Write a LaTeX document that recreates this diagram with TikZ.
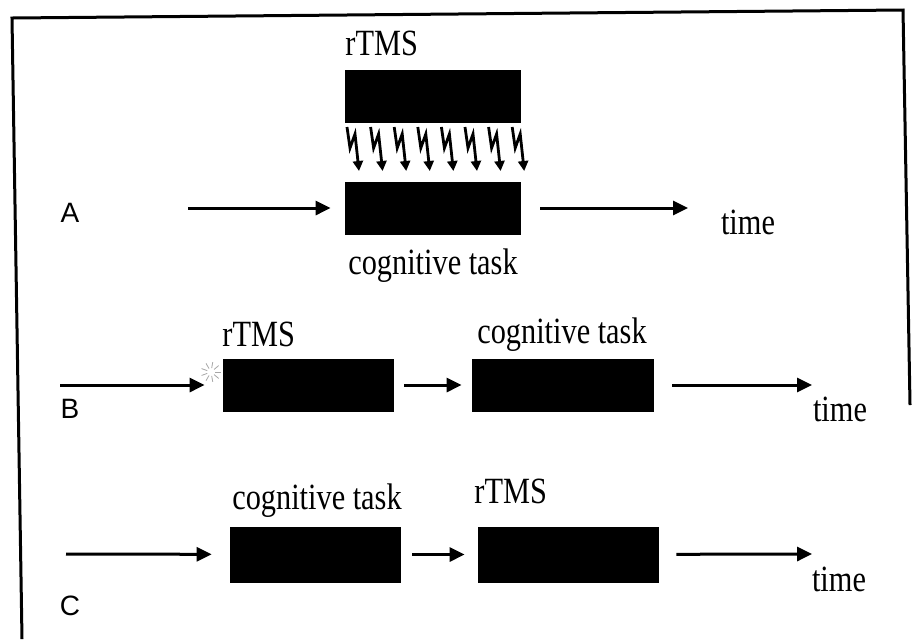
\documentclass[tikz,border=0pt]{standalone}
\usepackage{fontspec}
\setmainfont{Liberation Serif}
\newfontfamily\narrowfont[FakeStretch=0.82]{Liberation Serif}
\newfontfamily\labfont{Liberation Sans}
\usepackage{tikz}
\usetikzlibrary{arrows.meta}
\usetikzlibrary{positioning}

\tikzset{
  blk/.style={fill=black,draw=black,inner sep=0,minimum height=26pt},
  txt/.style={inner sep=0,font=\narrowfont\fontsize{18.5}{20}\selectfont},
  letter/.style={inner sep=0,font=\labfont\fontsize{14}{16}\selectfont},
  flow/.style={line width=1.5pt,-{Triangle[length=7.5pt,width=7pt]}},
  bolt/.style={line width=1.4pt,line join=miter,-{Triangle[length=5pt,width=5pt]}}
}

\begin{document}
\begin{tikzpicture}
		[x=0.5pt,y=-0.5pt]
		\useasboundingbox (0,0) rectangle (913,639);
		% frame
		\draw[line width=1.5pt] (22,639) -- (12,18) -- (903,10) -- (910,405);

		% A
		\node[letter,anchor=base] (lA) at (70,222) {A};
		\node[blk,minimum width=87.5pt] (rtmsA) at (432.5,96) {};
		\node[blk,minimum width=87.5pt] (taskA) at (432.5,208) {};
		\node[txt,anchor=base west] (trA) at (345,55) {rTMS};
		\node[txt,anchor=base] (tcA) at (433,274) {cognitive task};
		\node[txt,anchor=base] (ttA) at (748,234) {time};
		\coordinate (sA) at (188,208);
		\coordinate (eA) at (688,208);
		\draw[flow,shorten >=7pt] (sA) -- (taskA);
		\draw[flow,shorten <=10pt] (taskA) -- (eA);
		\foreach \i in {0,...,7}{
			\pgfmathsetmacro\bx{359+23.6*\i}
			\draw[bolt] (\bx-12,127) -- (\bx-9,148) -- (\bx-4,134) -- (\bx,171);
		}

		% B
		\node[letter,anchor=base] (lB) at (70,418) {B};
		\node[blk,minimum width=85pt] (rtmsB) at (308,385) {};
		\node[blk,minimum width=90.5pt] (taskB) at (562.5,385) {};
		\node[txt,anchor=base west] (trB) at (222,346) {rTMS};
		\node[txt,anchor=base] (tcB) at (562,343) {cognitive task};
		\node[txt,anchor=base] (ttB) at (840,421) {time};
		\coordinate (sB) at (60,385);
		\coordinate (eB) at (812,385);
		\draw[flow,shorten >=9pt] (sB) -- (rtmsB);
		\draw[flow,shorten <=5.5pt,shorten >=5pt] (rtmsB) -- (taskB);
		\draw[flow,shorten <=9.5pt] (taskB) -- (eB);
		\foreach \a in {0,40,...,320}
			\draw[gray!70,thin] (211,372) ++(\a:4) -- ++(\a:6);

		% C
		\node[letter,anchor=base] (lC) at (70,615) {C};
		\node[blk,minimum width=85pt,minimum height=27.5pt] (taskC) at (315,554.5) {};
		\node[blk,minimum width=90pt,minimum height=27.5pt] (rtmsC) at (568,554.5) {};
		\node[txt,anchor=base] (tcC) at (317,509) {cognitive task};
		\node[txt,anchor=base west] (trC) at (474,503) {rTMS};
		\node[txt,anchor=base] (ttC) at (839,591) {time};
		\coordinate (sC) at (66,554);
		\coordinate (eC) at (812,554);
		\draw[flow,shorten >=9pt] (sC) -- (taskC);
		\draw[flow,shorten <=6pt,shorten >=6.5pt] (taskC) -- (rtmsC);
		\draw[flow,shorten <=9pt] (rtmsC) -- (eC);
		\end{tikzpicture}
\end{document}
